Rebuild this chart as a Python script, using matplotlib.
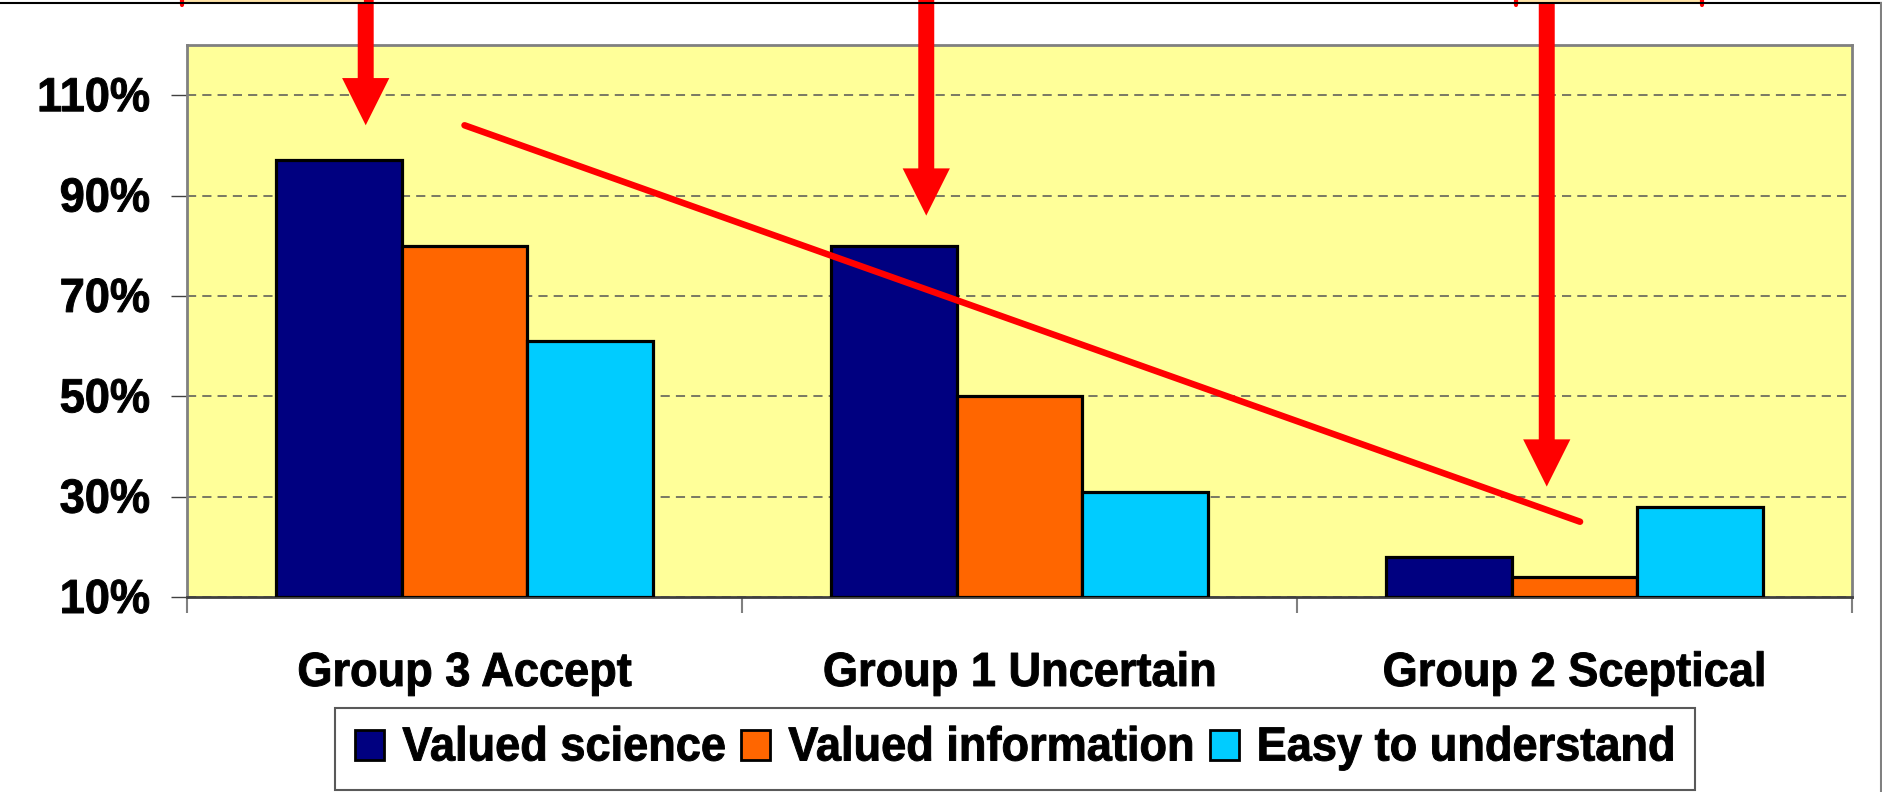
import numpy as np
import matplotlib
matplotlib.use('Agg')
import matplotlib.pyplot as plt
from matplotlib.patches import Patch, Rectangle
from matplotlib.lines import Line2D
from matplotlib.patheffects import AbstractPathEffect
from matplotlib.transforms import Affine2D

plt.rcParams['font.family'] = ['Liberation Sans', 'DejaVu Sans']
plt.rcParams['font.weight'] = 'bold'

# data
groups = ['Group 3 Accept', 'Group 1 Uncertain', 'Group 2 Sceptical']
series = ['Valued science', 'Valued information', 'Easy to understand']
valued_science = [97, 80, 18]
valued_information = [80, 50, 14]
easy_to_understand = [61, 31, 28]
colors = ['#000080', '#FF6600', '#00CCFF']
yticks = [10, 30, 50, 70, 90, 110]

# hand-drawn overlay: trend line and arrows (data coords)
trend_x = [0.0, 2.01]
trend_y = [104, 25]
arrow_x = [-0.178, 0.832, 1.95]
arrow_tip = [104, 86, 32]

FS = 32.5


class TallText(AbstractPathEffect):
    # the slide text is a bit taller and heavier than plain Liberation Sans Bold
    def __init__(self, sy=1.06, lw=0.7):
        super().__init__()
        self.sy = sy
        self.lw = lw

    def draw_path(self, renderer, gc, tpath, affine, rgbFace=None):
        gc0 = renderer.new_gc()
        gc0.copy_properties(gc)
        gc0.set_linewidth(self.lw)
        if rgbFace is not None:
            gc0.set_foreground(rgbFace)
        renderer.draw_path(gc0, tpath, Affine2D().scale(1, self.sy) + affine, rgbFace)
        gc0.restore()


fig = plt.figure(figsize=(18.83, 7.92), dpi=100)
ax = fig.add_axes([187/1883, 1 - 597/792, (1852-187)/1883, (597-45)/792])
ax.set_facecolor('#FFFF99')

x = np.arange(len(groups))
w = 0.226
vals = [valued_science, valued_information, easy_to_understand]
for i in range(3):
    ax.bar(x + (i - 1)*w, np.array(vals[i]) - 10, w, bottom=10, color=colors[i],
           edgecolor='black', linewidth=2.3, zorder=3)

ax.set_xlim(-0.5, 2.5)
ax.set_ylim(10, 120)
ax.set_yticks(yticks)
ax.set_yticklabels([str(t) + '%' for t in yticks], fontsize=FS, fontweight='bold')
ax.yaxis.grid(True, color='#555555', linestyle=(0, (6, 4)), linewidth=1.1, zorder=1)
ax.set_axisbelow(True)

ax.set_xticks(x)
ax.set_xticklabels(groups, fontsize=FS, fontweight='bold')
ax.set_xticks([-0.5, 0.5, 1.5, 2.5], minor=True)
ax.tick_params(axis='x', which='major', length=0, pad=41)
ax.tick_params(axis='x', which='minor', length=11.5, width=1.5, color='#808080', direction='out')
ax.tick_params(axis='y', length=11.5, width=1.0, color='#404040', direction='out', pad=15)

for s in ['top', 'right', 'left']:
    ax.spines[s].set_color('#808080')
    ax.spines[s].set_linewidth(2)
ax.spines['bottom'].set_color('#404040')
ax.spines['bottom'].set_linewidth(2)

ax.plot(trend_x, trend_y, color='red', linewidth=4.7, solid_capstyle='round', zorder=5)

for ax_x, tip in zip(arrow_x, arrow_tip):
    ax.annotate('', xy=(ax_x, tip), xytext=(ax_x, 140), annotation_clip=False,
                arrowprops=dict(facecolor='red', edgecolor='none', width=11.5,
                                headwidth=34, headlength=34, shrink=0), zorder=6)

# slide frame and the cut-off boxes peeking in at the top
for bx0, bx1 in [(182, 366), (1516, 1702)]:
    fig.add_artist(Rectangle((bx0/1883, 1 - 2/792), (bx1 - bx0)/1883, 0.05,
                             facecolor='#FFE4A8', edgecolor='none'))
    for ex in (bx0, bx1):
        fig.add_artist(Line2D([ex/1883]*2, [1 - 5/792, 1], color='red', linewidth=3,
                              solid_capstyle='round'))
fig.add_artist(Line2D([0, 1], [1 - 2.5/792]*2, color='black', linewidth=1.5))
fig.add_artist(Line2D([1 - 2/1883]*2, [0, 1 - 2.5/792], color='#808080', linewidth=1.5))

handles = [Patch(facecolor=c, edgecolor='black', linewidth=2) for c in colors]
leg = fig.legend(handles, series, loc='center', bbox_to_anchor=(1015/1883, 43/792),
                 ncol=3, fontsize=FS, frameon=True, fancybox=False, edgecolor='#303030',
                 handlelength=0.64, handleheight=0.64, handletextpad=0.4,
                 columnspacing=0.35, borderpad=0.45, borderaxespad=0)
leg.get_frame().set_linewidth(1.5)

for t in leg.get_texts() + ax.get_xticklabels() + ax.get_yticklabels():
    t.set_fontweight('bold')
    t.set_path_effects([TallText()])

fig.savefig('out.png', dpi=100, facecolor='white')
